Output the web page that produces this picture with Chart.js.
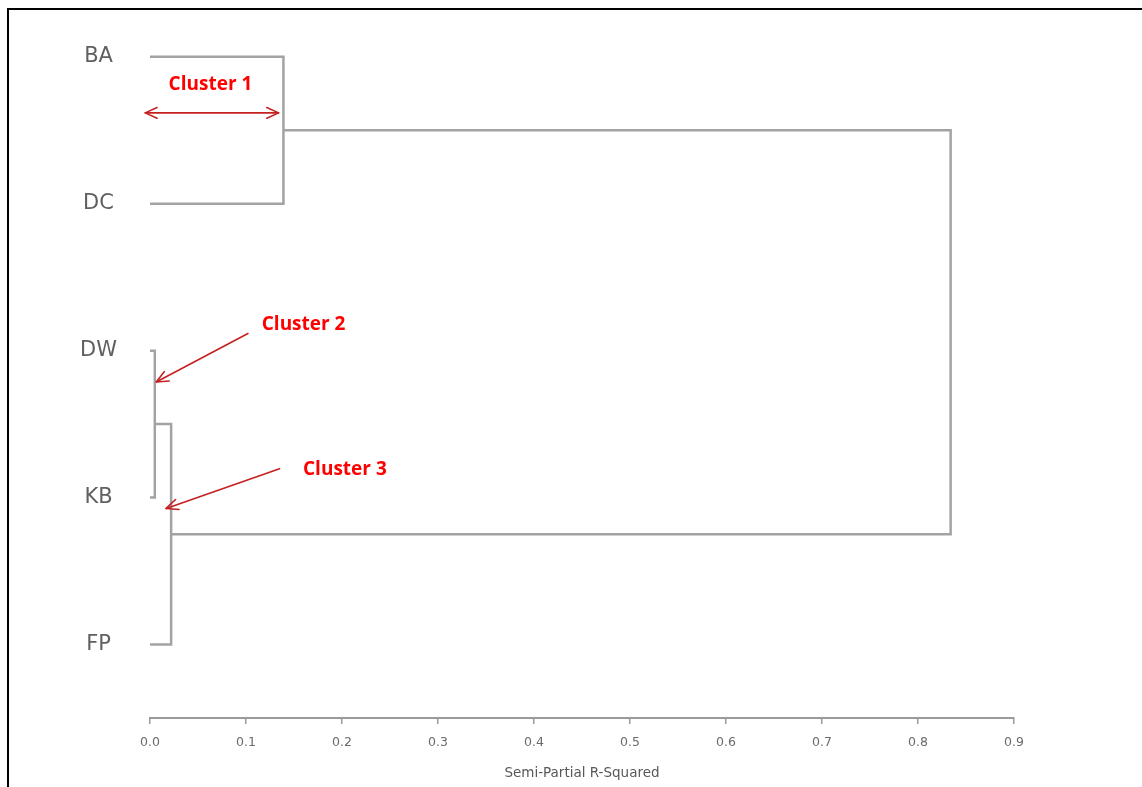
<!DOCTYPE html>
<html>
<head>
<meta charset="utf-8">
<script src="https://cdn.jsdelivr.net/npm/chart.js@4.4.1/dist/chart.umd.min.js"></script>
<style>
  html, body { margin: 0; padding: 0; background: #fff; }
  #wrap { position: relative; width: 1142px; height: 787px; overflow: hidden; }
  #wrap canvas { position: absolute; left: 0; top: 0; }
  #frame { position: absolute; left: 7px; top: 8px; right: -10px; bottom: -10px;
           border-left: 2px solid #000; border-top: 2px solid #000; pointer-events: none; }
</style>
</head>
<body>
<div id="wrap">
  <canvas id="c" width="1142" height="787"></canvas>
  <div id="frame"></div>
</div>
<script>
// Leaves of the tree, top to bottom
const leaves = ['BA', 'DC', 'DW', 'KB', 'FP'];

// Agglomeration steps: join k (named J1, J2, ...) merges joinLeft[k] with joinRight[k]
const joinLeft   = ['BA', 'DW', 'J2', 'J1'];
const joinRight  = ['DC', 'KB', 'FP', 'J3'];
const joinHeight = [0.139, 0.005, 0.022, 0.834];   // semi-partial R-squared

// Horizontal axis ticks
const xTickValues = [0, 0.1, 0.2, 0.3, 0.4, 0.5, 0.6, 0.7, 0.8, 0.9];
const xTickLabels = ['0.0', '0.1', '0.2', '0.3', '0.4', '0.5', '0.6', '0.7', '0.8', '0.9'];
const xAxisTitle = 'Semi-Partial R-Squared';

// Cluster callouts
const clusterNames = ['Cluster 1', 'Cluster 2', 'Cluster 3'];

// ---- build the tree geometry in data units (x = R², y = leaf row) ----
const nodes = {};
leaves.forEach((name, i) => { nodes[name] = { x: 0, y: i }; });
const linkData = joinHeight.map((h, k) => {
  const a = nodes[joinLeft[k]];
  const b = nodes[joinRight[k]];
  nodes['J' + (k + 1)] = { x: h, y: (a.y + b.y) / 2 };
  return [
    { x: a.x, y: a.y },
    { x: h,   y: a.y },
    { x: h,   y: b.y },
    { x: b.x, y: b.y }
  ];
});

const LINE = '#a3a3a3';
const datasets = linkData.map(pts => ({
  data: pts,
  showLine: true,
  borderColor: LINE,
  borderWidth: 2.5,
  borderJoinStyle: 'miter',
  borderCapStyle: 'butt',
  pointRadius: 0,
  tension: 0,
  clip: false
}));

// Callout placement, in data units of the two scales
const callouts = [
  { text: clusterNames[0], tx: 0.063, ty: 0.19,
    arrow: { x1: 0.134, y1: 0.382, x2: -0.005, y2: 0.382, both: true } },
  { text: clusterNames[1], tx: 0.160, ty: 1.826,
    arrow: { x1: 0.102, y1: 1.883, x2: 0.0065, y2: 2.213, both: false } },
  { text: clusterNames[2], tx: 0.203, ty: 2.807,
    arrow: { x1: 0.1349, y1: 2.803, x2: 0.0168, y2: 3.074, both: false } }
];

function head(ctx, fx, fy, tx, ty) {
  const len = 13, ang = 0.42;
  const a = Math.atan2(ty - fy, tx - fx);
  ctx.beginPath();
  ctx.moveTo(tx - len * Math.cos(a - ang), ty - len * Math.sin(a - ang));
  ctx.lineTo(tx, ty);
  ctx.lineTo(tx - len * Math.cos(a + ang), ty - len * Math.sin(a + ang));
  ctx.stroke();
}

const calloutPlugin = {
  id: 'callouts',
  afterDatasetsDraw(chart) {
    const { ctx, scales: { x, y } } = chart;
    ctx.save();
    callouts.forEach(c => {
      const ar = c.arrow;
      const x1 = x.getPixelForValue(ar.x1), y1 = y.getPixelForValue(ar.y1);
      const x2 = x.getPixelForValue(ar.x2), y2 = y.getPixelForValue(ar.y2);
      ctx.strokeStyle = '#c62020';
      ctx.lineWidth = 1.6;
      ctx.lineCap = 'round';
      ctx.lineJoin = 'round';
      ctx.beginPath();
      ctx.moveTo(x1, y1);
      ctx.lineTo(x2, y2);
      ctx.stroke();
      head(ctx, x1, y1, x2, y2);
      if (ar.both) head(ctx, x2, y2, x1, y1);

      ctx.fillStyle = '#ff0000';
      ctx.font = 'bold 19px "Open Sans", "Liberation Sans", sans-serif';
      ctx.textAlign = 'center';
      ctx.textBaseline = 'middle';
      ctx.fillText(c.text, x.getPixelForValue(c.tx), y.getPixelForValue(c.ty));
    });
    ctx.restore();
  }
};

new Chart(document.getElementById('c'), {
  type: 'scatter',
  data: { datasets },
  plugins: [calloutPlugin],
  options: {
    responsive: false,
    animation: false,
    devicePixelRatio: 1,
    layout: { padding: { left: 0, right: 128, top: 20, bottom: 0 } },
    plugins: { legend: { display: false }, tooltip: { enabled: false } },
    events: [],
    scales: {
      x: {
        type: 'linear',
        min: 0,
        max: 0.9,
        afterBuildTicks: s => { s.ticks = xTickValues.map(v => ({ value: v })); },
        afterFit: s => { s.height = 69; s.paddingLeft = 0; s.paddingRight = 0; },
        ticks: {
          callback: (v, i) => xTickLabels[i],
          font: { family: '"DejaVu Sans", sans-serif', size: 12.5 },
          color: '#6a6a6a',
          padding: 11,
          maxRotation: 0,
          autoSkip: false
        },
        grid: { drawOnChartArea: false, drawTicks: true, tickLength: 6, color: '#9a9a9a', lineWidth: 1.5 },
        border: { display: true, color: '#9a9a9a', width: 2 },
        title: {
          display: true,
          text: xAxisTitle,
          font: { family: '"DejaVu Sans", sans-serif', size: 13.5 },
          color: '#585858',
          padding: { top: 0, bottom: 5 }
        }
      },
      y: {
        type: 'linear',
        reverse: true,
        min: -0.25,
        max: 4.5,
        afterBuildTicks: s => { s.ticks = leaves.map((_, i) => ({ value: i })); },
        afterFit: s => { s.width = 150; s.paddingTop = 0; s.paddingBottom = 0; },
        ticks: {
          callback: (v, i) => leaves[i],
          font: { family: '"DejaVu Sans", sans-serif', size: 21 },
          color: '#606060',
          crossAlign: 'center',
          padding: 25,
          autoSkip: false
        },
        grid: { display: false },
        border: { display: false }
      }
    }
  }
});
</script>
</body>
</html>
